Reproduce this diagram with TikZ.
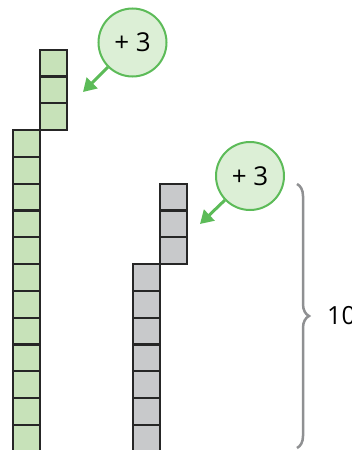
\documentclass[tikz,border=0pt]{standalone}
\usepackage{fontspec}
\setmainfont{Open Sans}
\usepackage{tikz}
\usetikzlibrary{arrows.meta,positioning,decorations.pathreplacing}
\usepackage{xcolor}
\definecolor{cellgreen}{RGB}{199,226,185}
\definecolor{cellgray}{RGB}{200,201,203}
\definecolor{ringcol}{RGB}{92,187,88}
\definecolor{ringfill}{RGB}{220,239,214}
\definecolor{bracecol}{RGB}{143,144,146}

\begin{document}
\begin{tikzpicture}[
  x=1pt, y=-1pt,
  cell/.style={rectangle, draw=black!85, line width=2.2pt,
               minimum size=26.8pt, inner sep=0pt},
  gcell/.style={cell, fill=cellgreen},
  ycell/.style={cell, fill=cellgray},
  ring/.style={circle, draw=ringcol, line width=2pt, fill=ringfill,
               minimum size=68pt, inner sep=0pt,
               font=\fontsize{26}{30}\selectfont},
  parrow/.style={draw=ringcol, line width=3pt,
                 -{Triangle[length=13pt,width=15pt]}},
  >=Stealth
]
  \useasboundingbox (0,0) rectangle (352,450);

  % Tall green column (12 cells)
  \foreach \i in {1,...,12} {
    \node[gcell] (G\i) at (26.5,{130+13.4+26.8*(\i-1)}) {};
  }
  % Green top-up (3 cells)
  \foreach \i in {1,...,3} {
    \node[gcell] (GT\i) at (53.5,{49.6+13.4+26.8*(\i-1)}) {};
  }

  % Tall gray column (7 cells)
  \foreach \i in {1,...,7} {
    \node[ycell] (Y\i) at (146.5,{264+13.4+26.8*(\i-1)}) {};
  }
  % Gray top-up (3 cells)
  \foreach \i in {1,...,3} {
    \node[ycell] (YT\i) at (173.5,{183.6+13.4+26.8*(\i-1)}) {};
  }

  % Bubbles with arrows
  \node[ring] (C1) at (132.5,42.5) {+ 3};
  \coordinate (A1) at (83,92);
  \draw[parrow] (C1) -- (A1);

  \node[ring] (C2) at (250,176) {+ 3};
  \coordinate (A2) at (200,224);
  \draw[parrow] (C2) -- (A2);

  % Brace
  \coordinate (B1) at (297,184);
  \coordinate (B2) at (297,448);
  \draw[bracecol, line width=2.5pt, decorate,
        decoration={brace, amplitude=12pt}] (B1) -- (B2);
  \node[font=\fontsize{25}{30}\selectfont, anchor=west, inner sep=0pt]
    (L) at (327,316) {10};
\end{tikzpicture}
\end{document}
